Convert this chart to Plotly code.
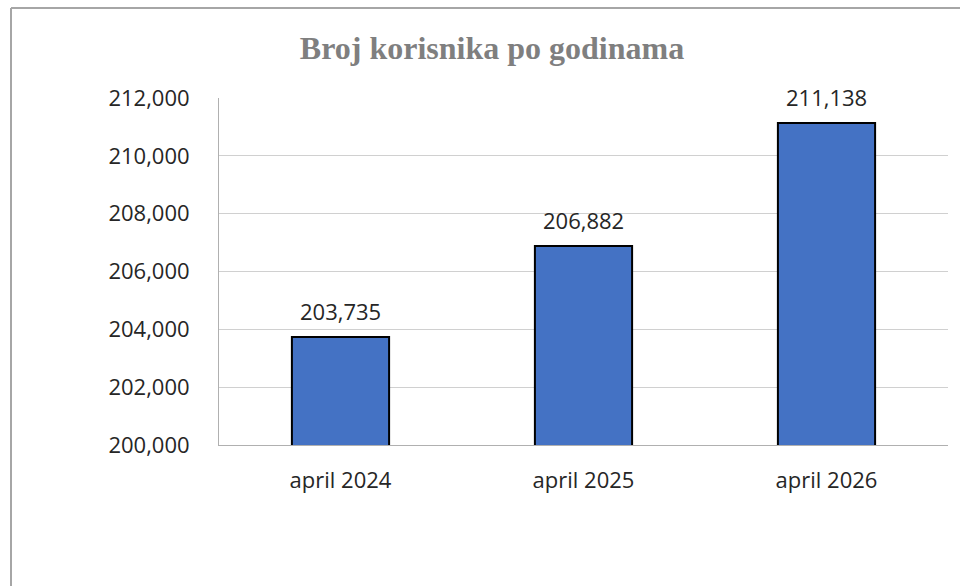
import plotly.graph_objects as go

categories = ["april 2024", "april 2025", "april 2026"]
users = [203735, 206882, 211138]
y_tick_values = [200000, 202000, 204000, 206000, 208000, 210000, 212000]
y_tick_labels = ["200,000", "202,000", "204,000", "206,000", "208,000", "210,000", "212,000"]
title_text = "Broj korisnika po godinama"

label_font = dict(family="Open Sans, Noto Sans, sans-serif", size=22, color="#262626")

W, H = 960, 586

fig = go.Figure()
fig.add_trace(go.Bar(
    x=categories,
    y=users,
    marker=dict(color="#4472C4", line=dict(color="#000000", width=2)),
    hoverinfo="skip",
))

for c, v in zip(categories, users):
    fig.add_annotation(
        x=c, y=v, text=f"{v:,}", showarrow=False,
        yanchor="bottom", yshift=9, font=label_font,
    )

fig.update_layout(
    width=W, height=H,
    margin=dict(l=219, r=12, t=98, b=141, pad=0),
    paper_bgcolor="white", plot_bgcolor="white",
    showlegend=False,
    title=dict(
        text=f"<b>{title_text}</b>",
        font=dict(family="Liberation Serif, Times New Roman, serif", size=32, color="#7f7f7f"),
        x=492 / W, xanchor="center", xref="container",
        y=1 - 48 / H, yanchor="middle", yref="container",
    ),
    bargap=0.6,
)

fig.update_yaxes(
    range=[200000, 212000],
    tickvals=y_tick_values, ticktext=y_tick_labels,
    showgrid=True, gridcolor="#d0d0d0", gridwidth=1,
    showline=True, linecolor="#b0b0b0", linewidth=1,
    zeroline=False, ticks="", ticklabelstandoff=24,
    tickfont=label_font,
)
fig.update_xaxes(
    showline=True, linecolor="#b0b0b0", linewidth=1,
    showgrid=False, ticks="", ticklabelstandoff=16,
    tickfont=label_font,
)

# outer chart border (left and top edges visible in the reference)
fig.add_shape(type="line", xref="paper", yref="paper",
              x0=(11 - 219) / 729, x1=(11 - 219) / 729,
              y0=(445 - 8) / 347, y1=(445 - 600) / 347,
              line=dict(color="#a6a6a6", width=2))
fig.add_shape(type="line", xref="paper", yref="paper",
              x0=(11 - 219) / 729, x1=(980 - 219) / 729,
              y0=(445 - 8) / 347, y1=(445 - 8) / 347,
              line=dict(color="#a6a6a6", width=2))

fig.write_html(
    "out.html",
    config={"displayModeBar": False},
    post_script="document.body.style.margin='0';document.body.style.overflow='hidden';",
)
